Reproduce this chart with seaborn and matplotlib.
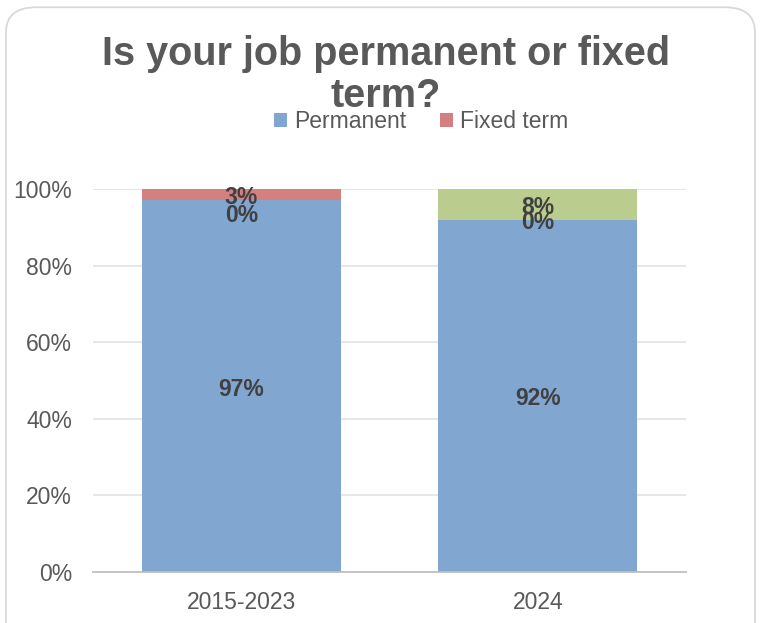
import matplotlib
matplotlib.use("Agg")
import matplotlib.pyplot as plt
import seaborn as sns
import pandas as pd
from matplotlib.patches import Patch, FancyBboxPatch

categories = ["2015-2023", "2024"]
permanent = [97, 92]
fixed_term = [3, 0]
other = [0, 8]
series_names = ["Permanent", "Fixed term", "Other"]
title = "Is your job permanent or fixed\nterm?"
yticks = [0, 20, 40, 60, 80, 100]

colors = {"Permanent": "#81A6D0", "Fixed term": "#D58080", "Other": "#BACD8E"}
text_gray = "#595959"

sns.set_theme(style="white")
plt.rcParams["font.family"] = ["Liberation Sans", "DejaVu Sans"]

fig = plt.figure(figsize=(7.6, 6.23), dpi=100)
fig.patches.append(FancyBboxPatch((6 / 760, -0.05), 749 / 760, 1 - 6 / 623 + 0.05 - 0.002,
                                  boxstyle="round,pad=0,rounding_size=0.04",
                                  transform=fig.transFigure, facecolor="white",
                                  edgecolor="#D9D9D9", linewidth=1.3, zorder=-5))
ax = fig.add_axes([93 / 760, 1 - 572 / 623, (686 - 93) / 760, (572 - 189) / 623])
ax.set_facecolor("none")
ax.set_zorder(2)

df = pd.DataFrame({"category": categories, "Permanent": permanent,
                   "Fixed term": fixed_term, "Other": other})
df["c1"] = df["Permanent"]
df["c2"] = df["Permanent"] + df["Fixed term"]
df["c3"] = df["c2"] + df["Other"]

for col, name in [("c3", "Other"), ("c2", "Fixed term"), ("c1", "Permanent")]:
    sns.barplot(data=df, x="category", y=col, color=colors[name], width=0.67,
                saturation=1, ax=ax, zorder=3, linewidth=0)

ax.set_ylim(0, 100)
ax.set_xlim(-0.5, 1.5)
ax.set_yticks(yticks)
ax.set_yticklabels([f"{v}%" for v in yticks])
ax.set_xlabel("")
ax.set_ylabel("")
ax.tick_params(axis="both", labelsize=16.5, colors=text_gray, length=0)
ax.tick_params(axis="y", pad=15)
ax.tick_params(axis="x", pad=14)
for v in yticks[1:]:
    ax.axhline(v, color="#E3E3E3", linewidth=1.2, zorder=1)
for s in ["top", "right", "left"]:
    ax.spines[s].set_visible(False)
ax.spines["bottom"].set_color("#BFBFBF")
ax.spines["bottom"].set_linewidth(1.3)
ax.spines["bottom"].set_zorder(4)

# data labels
nudge = {(0, "Other"): -17}
for i in range(len(categories)):
    base = 0
    for name in series_names:
        v = df[name][i]
        y = base + v / 2
        ax.annotate(f"{v}%", (i, y), xytext=(0, nudge.get((i, name), 0) - 2),
                    textcoords="offset points", ha="center", va="center",
                    fontsize=16.5, fontweight="bold", color="#404040", zorder=5)
        base += v

fig.text(386 / 760, 1 - 75 / 623, title, ha="center", va="center",
         fontsize=28.5, fontweight="bold", color=text_gray, linespacing=1.12)

handles = [Patch(facecolor=colors[n], edgecolor="none", label=n) for n in series_names[:2]]
fig.legend(handles=handles, loc="center", bbox_to_anchor=(421 / 760, 1 - 122 / 623),
           ncol=2, frameon=False, fontsize=16.5, handlelength=0.55, handleheight=0.55,
           handletextpad=0.3, columnspacing=1.5, labelcolor=text_gray)

fig.savefig("out.png", dpi=100)
